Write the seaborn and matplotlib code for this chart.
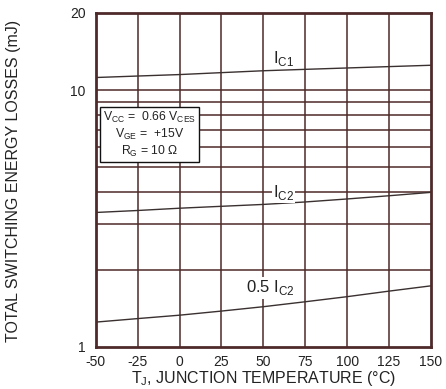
import matplotlib
matplotlib.use("Agg")
import matplotlib.pyplot as plt
import seaborn as sns
import pandas as pd
from matplotlib.ticker import FixedLocator, NullFormatter, FixedFormatter

temps = [-50, -25, 0, 25, 50, 75, 100, 125, 150]
ic1 = [11.2, 11.35, 11.5, 11.7, 11.9, 12.05, 12.2, 12.35, 12.5]
ic2 = [3.34, 3.40, 3.47, 3.53, 3.59, 3.67, 3.77, 3.88, 4.0]
half_ic2 = [1.25, 1.29, 1.33, 1.38, 1.435, 1.50, 1.57, 1.65, 1.73]
series_names = ["IC1", "IC2", "0.5IC2"]
xticks = [-50, -25, 0, 25, 50, 75, 100, 125, 150]
ytick_vals = [1, 10, 20]
ytick_labels = ["1", "10", "20"]
ygrid_vals = [2, 3, 4, 5, 6, 7, 8, 9, 10]

df = pd.DataFrame({
    "T": temps * 3,
    "E": ic1 + ic2 + half_ic2,
    "s": sum([[n] * len(temps) for n in series_names], []),
})

sns.set_theme(style="white")
plt.rcParams["font.family"] = ["Liberation Sans", "DejaVu Sans"]
plt.rcParams["mathtext.fontset"] = "custom"
plt.rcParams["mathtext.rm"] = "Liberation Sans"

grid_c = "#4e2a2a"
line_c = "#3a3030"
txt_c = "#222222"

fig = plt.figure(figsize=(4.46, 3.89), dpi=100)
ax = fig.add_axes([0.215, 0.108, 0.751, 0.859])
sns.lineplot(data=df, x="T", y="E", units="s", estimator=None, color=line_c,
             lw=1.0, ax=ax, legend=False)
ax.set_yscale("log")
ax.set_xlim(-50, 150)
ax.set_ylim(1, 20)

for v in ygrid_vals:
    ax.axhline(v, color=grid_c, lw=1.1, zorder=0.5)
for v in xticks[1:-1]:
    ax.axvline(v, color=grid_c, lw=1.1, zorder=0.5)

ax.yaxis.set_major_locator(FixedLocator(ytick_vals))
ax.yaxis.set_major_formatter(FixedFormatter(ytick_labels))
ax.yaxis.set_minor_locator(FixedLocator([]))
ax.yaxis.set_minor_formatter(NullFormatter())
ax.set_xticks(xticks)
ax.set_xticklabels([str(t) for t in xticks])
ax.tick_params(axis="y", length=0, labelsize=10, colors=txt_c, pad=7.5)
ax.tick_params(axis="x", length=0, labelsize=10, colors=txt_c, pad=5.5)

for sp in ax.spines.values():
    sp.set_color(grid_c)
    sp.set_linewidth(2.0)

ax.set_xlabel("T$_\\mathregular{J}$, JUNCTION TEMPERATURE (°C)", fontsize=11.5,
              color=txt_c)
ax.xaxis.set_label_coords(0.5, -0.066)
ax.set_ylabel("TOTAL SWITCHING ENERGY LOSSES (mJ)", fontsize=11.5, color=txt_c)
ax.yaxis.set_label_coords(-0.225, 0.497)

ax.text(62, 13.3, "I$_\\mathregular{C1}$", ha="center", va="center", fontsize=12,
        color=txt_c)
ax.text(62, 4.0, "I$_\\mathregular{C2}$", ha="center", va="center", fontsize=12,
        color=txt_c, bbox=dict(facecolor="white", edgecolor="none", pad=1.0))
ax.text(54, 1.70, "0.5 I$_\\mathregular{C2}$", ha="center", va="center", fontsize=12,
        color=txt_c, bbox=dict(facecolor="white", edgecolor="none", pad=1.0))

ax.text(-18, 6.72,
        "V$_\\mathregular{CC}$ =  0.66 V$_\\mathregular{CES}$\n"
        "V$_\\mathregular{GE}$ =  +15V\nR$_\\mathregular{G}$ = 10 Ω",
        ha="center", va="center", fontsize=8.8, color=txt_c, linespacing=1.2,
        bbox=dict(facecolor="white", edgecolor="#111111", lw=1.0, pad=2.0),
        zorder=5)

fig.savefig("out.png", dpi=100, facecolor="white")
